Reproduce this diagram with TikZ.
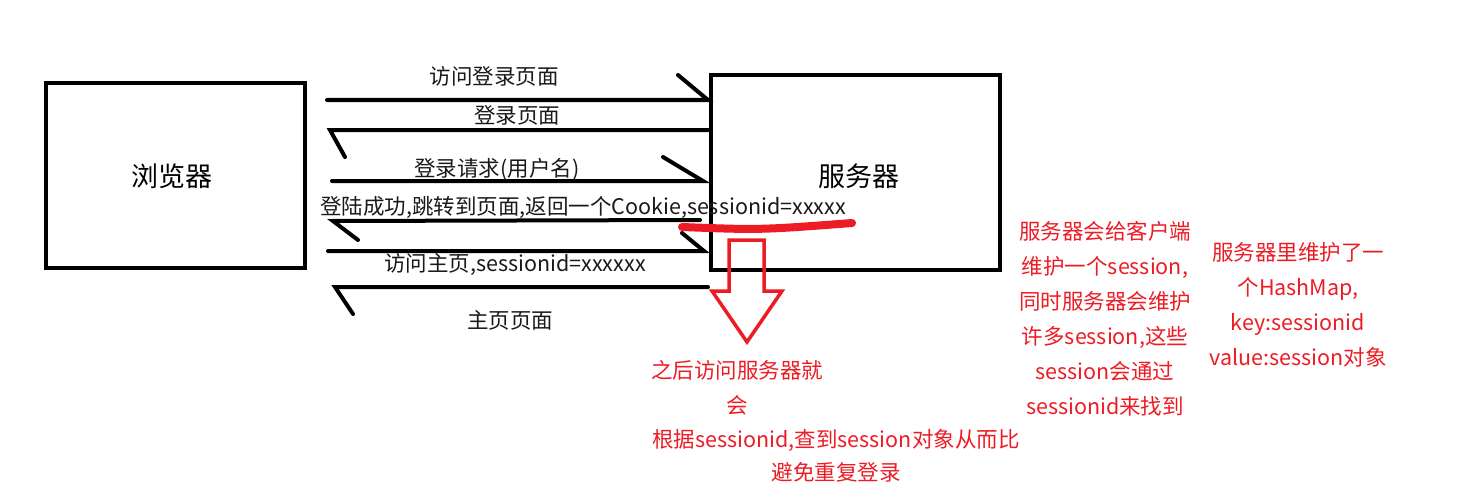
\documentclass[tikz,border=0pt]{standalone}
\usepackage{fontspec}
\setmainfont{Noto Sans CJK SC}
\definecolor{pred}{RGB}{237,28,36}
\begin{document}
\begin{tikzpicture}[x=1pt,y=-1pt,
  box/.style={draw=black,line width=4pt,inner sep=0pt},
  msg/.style={draw=black,line width=4pt,line cap=round},
  lbl/.style={font=\fontsize{21.5}{25}\selectfont,inner sep=0pt,text=black!90},
  big/.style={font=\fontsize{27}{31}\selectfont,inner sep=0pt},
  note/.style={font=\fontsize{21.5}{35}\selectfont,text=pred,align=center,inner sep=0pt}]
\useasboundingbox (0,0) rectangle (1468,487);
% boxes
\draw[box] (46,83) rectangle (305,268);
\node[big] (browser) at (172,176) {浏览器};
\draw[box] (711,75) rectangle (1000,270);
\node[big] (server) at (859,176) {服务器};
% arrow 1
\coordinate (a1s) at (327,100); \coordinate (a1e) at (708,100);
\draw[msg] (a1s) -- (a1e) -- ++(-30,-25);
\node[lbl] (l1) at (494,76) {访问登录页面};
% arrow 2
\coordinate (a2s) at (708,130); \coordinate (a2e) at (330,130);
\draw[msg] (a2s) -- (a2e) -- ++(15,27);
\node[lbl] (l2) at (517,115) {登录页面};
% arrow 3
\coordinate (a3s) at (332,181); \coordinate (a3e) at (703,181);
\draw[msg] (a3s) -- (a3e) -- ++(-40,-24);
\node[lbl] (l3) at (497,170) {登录请求(用户名)};
% arrow 4
\coordinate (a4s) at (700,220); \coordinate (a4e) at (333,221);
\draw[msg] (a4s) -- (a4e) -- ++(25,19);
\node[lbl] (l4) at (583,208) {登陆成功,跳转到页面,返回一个Cookie,sessionid=xxxxx};
% arrow 5
\coordinate (a5s) at (328,251); \coordinate (a5e) at (704,251);
\draw[msg] (a5s) -- (a5e) -- ++(-22,-18);
\node[lbl] (l5) at (515,265) {访问主页,sessionid=xxxxxx};
% arrow 6
\coordinate (a6s) at (708,287); \coordinate (a6e) at (335,287);
\draw[msg] (a6s) -- (a6e) -- ++(18,27);
\node[lbl] (l6) at (510,320) {主页页面};
% red underline
\coordinate (u1) at (682,227); \coordinate (u2) at (852,223);
\draw[pred,line width=8pt,line cap=round] (u1) .. controls (760,230) .. (u2);
% red block arrow
\draw[pred,line width=3.5pt,line join=miter] (729,240) -- (764,240) -- (764,291) -- (782,291) -- (747,342) -- (712,291) -- (729,291) -- cycle;
% red notes
\node[note] (n1) at (737,370) {之后访问服务器就};
\node[note] (n2) at (737,405) {会};
\node[note] (n3) at (836,440) {根据sessionid,查到session对象从而比};
\node[note] (n4) at (836,472) {避免重复登录};
\node[note] (n5) at (1105,319) {服务器会给客户端\\维护一个session,\\同时服务器会维护\\许多session,这些\\session会通过\\sessionid来找到};
\node[note] (n6) at (1298,305) {服务器里维护了一\\个HashMap,\\key:sessionid\\value:session对象};
\end{tikzpicture}
\end{document}
